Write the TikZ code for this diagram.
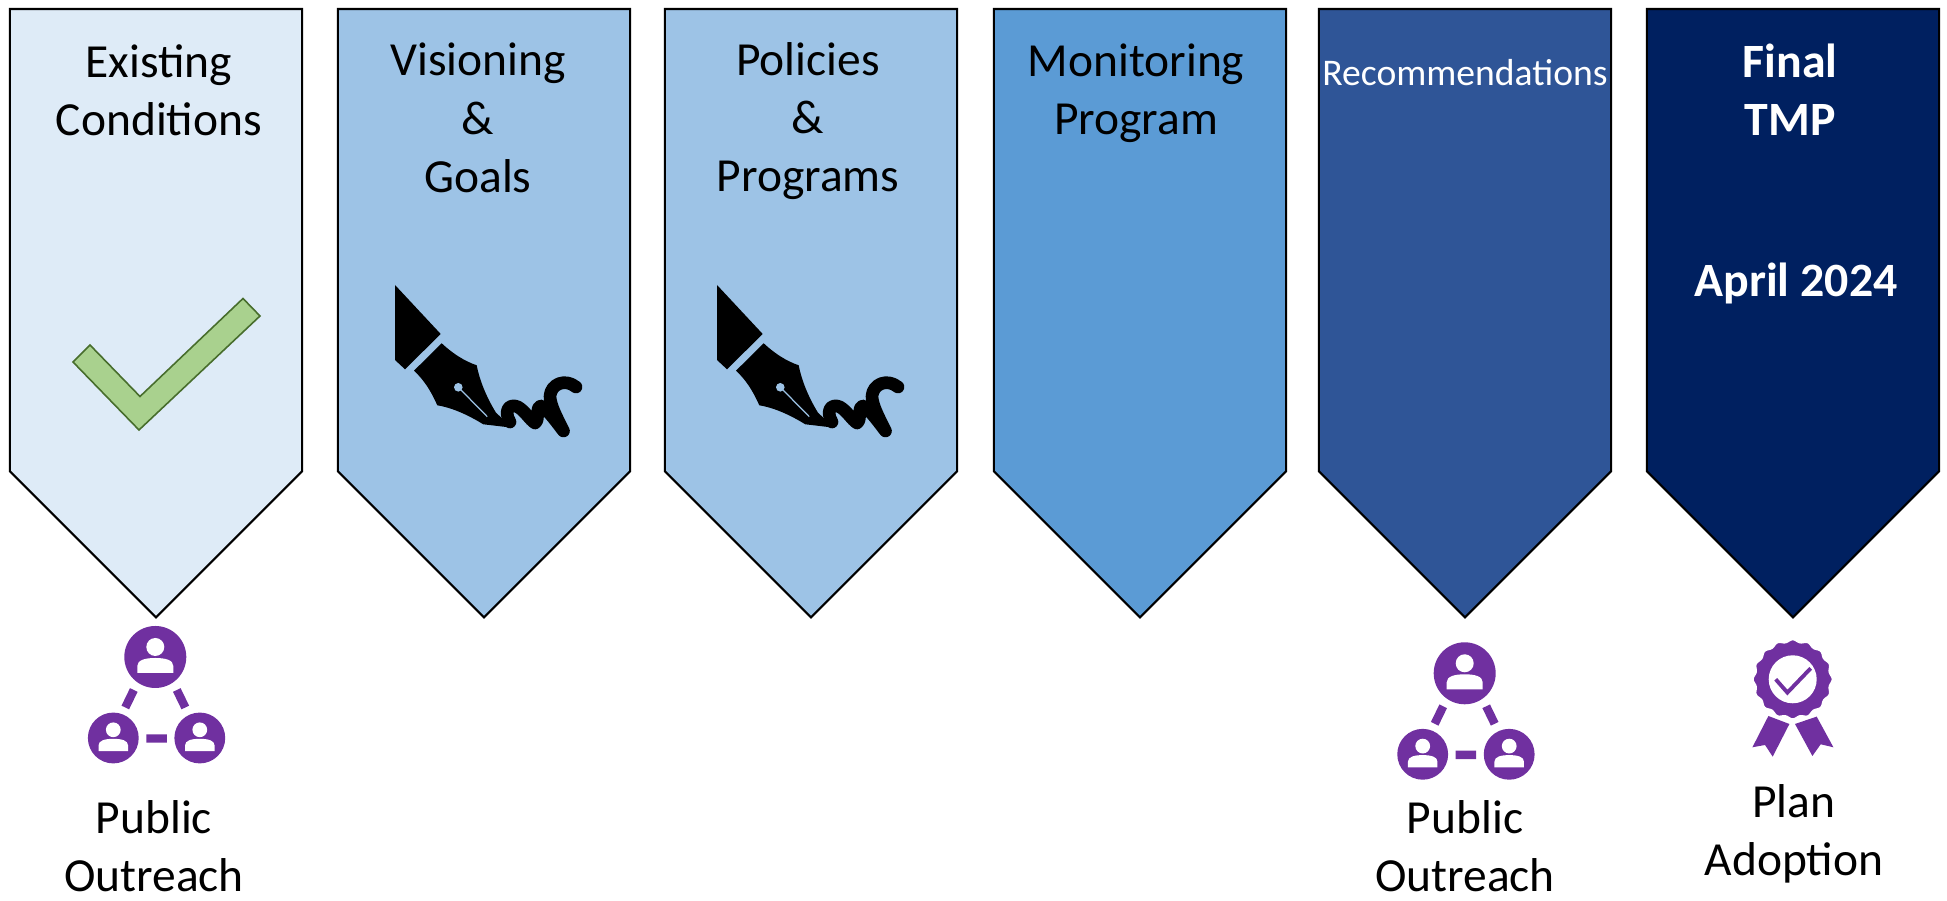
\documentclass[tikz,border=0pt]{standalone}
\usepackage{fontspec}
\setmainfont{Carlito}
\usetikzlibrary{shapes}
\usetikzlibrary{positioning}

\definecolor{stageA}{HTML}{DEEBF7}
\definecolor{stageB}{HTML}{9DC3E6}
\definecolor{stageC}{HTML}{5B9BD5}
\definecolor{stageD}{HTML}{2F5597}
\definecolor{stageE}{HTML}{002060}
\definecolor{iconpurple}{HTML}{7030A0}
\definecolor{checkfill}{HTML}{A9D18E}
\definecolor{checkline}{HTML}{476D2C}

\tikzset{
  pennant/.style={draw=black, line width=.6pt, shape=signal, signal to=south, signal pointer angle=90,
    minimum width=292*0.2845pt, minimum height=462*0.2845pt, inner sep=0pt, anchor=north},
  stagetext/.style={align=center, font=\fontsize{13.5}{16.6}\selectfont},
  lighttext/.style={stagetext, font=\fontsize{13.6}{16.4}\selectfont\bfseries, text=white},
  person/.pic={
    \fill[iconpurple] (0,0) circle[radius=31];
    \fill[white] (0,-10) circle[radius=9];
    \fill[white] (-18,16) -- (-18,9) .. controls (-18,3) and (-10,1) .. (0,1) .. controls (10,1) and (18,3) .. (18,9) -- (18,16) -- cycle;
  },
  outreach/.pic={
    \pic {person};
    \pic[scale=.82] at (-42,81) {person};
    \pic[scale=.82] at (44.5,81) {person};
    \draw[iconpurple, line width=2.4pt] (-21.5,33) -- (-30,50.5) (21.5,33) -- (30,50.5) (-9,81.5) -- (11.5,81.5);
  },
  penicon/.pic={
    \fill (35,25) -- (80.7,74) -- (45,109.3) -- (35,100) -- cycle;
    \fill (81.7,83.3) .. controls (92,93) and (104,101) .. (116.7,105.3)
      .. controls (120,122) and (127,138) .. (136,152.7) -- (152,167.7) -- (123.3,164.3)
      .. controls (108,155) and (93,148) .. (77.3,145.3)
      .. controls (71,131) and (64,120) .. (54,110.7) -- cycle;
    \fill[stageB] (98.3,127.3) circle[radius=4.3];
    \draw[stageB, line width=.35pt] (101,130) -- (127.3,156.7);
    \draw[line width=3.6pt, line cap=round, line join=round] (150,162) .. controls (143,150) and (150,143) .. (158,147)
      .. controls (165,151) and (170,160) .. (175,163) .. controls (180,160) and (175,147) .. (181,146)
      .. controls (190,152) and (197,163) .. (203.5,171) .. controls (197,158) and (190,145) .. (190,136)
      .. controls (191,124) and (205,118) .. (216,127);
  },
  badgeicon/.pic={
    \fill[iconpurple] (-24.3,36.7) -- (-3.3,44.7) -- (-20,77.3) -- (-27.7,65.7) -- (-40.3,68) -- cycle;
    \fill[iconpurple] (2.3,44.7) -- (24,37.3) -- (40.7,68) -- (28,65) -- (19.7,76.7) -- cycle;
    \draw[white, line width=.6pt, fill=iconpurple] plot[domain=0:360, samples=161, smooth]
      ({(38.8+1.2*cos(16*\x))*cos(\x)}, {(38.8+1.2*cos(16*\x))*sin(\x)}) -- cycle;
    \fill[white] (0,0) circle[radius=24];
    \draw[iconpurple, line width=1.1pt] (-17,0) -- (-5.3,13.3) -- (18,-11);
  }
}

\begin{document}
\begin{tikzpicture}[x=.01cm, y=-.01cm]

\useasboundingbox (0,0) rectangle (1947,901);

\node[pennant, fill=stageA] (existing) at (156,8) {};
\node[pennant, fill=stageB] (visioning) at (484,8) {};
\node[pennant, fill=stageB] (policies) at (811,8) {};
\node[pennant, fill=stageC] (monitoring) at (1140,8) {};
\node[pennant, fill=stageD] (recommend) at (1465,8) {};
\node[pennant, fill=stageE] (final) at (1793,8) {};

\node[stagetext] (existingtext) at (159,90) {Existing\\Conditions};
\node[stagetext] (visioningtext) at (478,118) {Visioning\\\&\\Goals};
\node[stagetext] (policiestext) at (808,121) {Policies\\\&\\Programs};
\node[stagetext] (monitoringtext) at (1136,93) {Monitoring\\Program};
\node[stagetext, font=\fontsize{10.7}{12}\selectfont, text=white] (recommendtext) at (1465,73) {Recommendations};
\node[lighttext] (finaltext) at (1790,90) {Final\\TMP};
\node[lighttext] (datetext) at (1796,283) {April 2024};

% icons
\draw[draw=checkline, fill=checkfill, line width=.45pt] (73,362) -- (90,345) -- (140,396.5) -- (243,298.5) -- (260,316) -- (139,430) -- cycle;
\pic at (360,260) {penicon};
\pic at (682,260) {penicon};
\pic at (155.3,657) {outreach};
\pic at (1464.7,673.3) {outreach};
\pic at (1792.7,679.3) {badgeicon};

\node[stagetext] (outreachA) at (154,846) {Public\\Outreach};
\node[stagetext] (outreachB) at (1465,846) {Public\\Outreach};
\node[stagetext] (adoption) at (1794,834) {Plan\\Adoption};

\end{tikzpicture}
\end{document}
